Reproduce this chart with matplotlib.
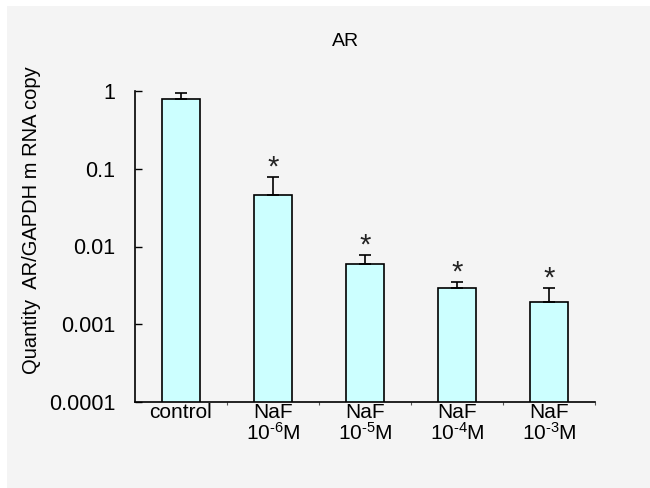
"""Recreate the AR mRNA bar chart (log scale)."""

import matplotlib
matplotlib.use("Agg")
import matplotlib.pyplot as plt
from matplotlib.patches import Rectangle

plt.rcParams["font.family"] = ["Liberation Sans", "DejaVu Sans"]
plt.rcParams["mathtext.fontset"] = "custom"
plt.rcParams["mathtext.rm"] = "Liberation Sans"
plt.rcParams["mathtext.default"] = "regular"

CATEGORIES = ["control", "NaF\n10$^{\u2010 6}$M", "NaF\n10$^{\u2010 5}$M",
              "NaF\n10$^{\u2010 4}$M", "NaF\n10$^{\u2010 3}$M"]
MEANS = [0.78, 0.046, 0.0060, 0.0029, 0.00195]
ERR_UP = [0.17, 0.033, 0.0017, 0.00055, 0.0010]
SIGNIF = [False, True, True, True, True]
YTICKS = [0.0001, 0.001, 0.01, 0.1, 1]
YTICK_LABELS = ["0.0001", "0.001", "0.01", "0.1", "1"]

BG = "#f4f4f4"
BAR = "#ccffff"

fig = plt.figure(figsize=(6.5, 4.88), dpi=100)
fig.patch.set_facecolor("white")
fig.patches.append(Rectangle((7 / 650, 0), 1, 1 - 6 / 488, transform=fig.transFigure,
                             facecolor=BG, edgecolor="none", zorder=-1))

ax = fig.add_axes([135 / 650, 1 - 402 / 488, 460 / 650, (402 - 91) / 488])
ax.set_facecolor("none")

x = list(range(len(CATEGORIES)))
ax.bar(x, MEANS, width=0.42, color=BAR, edgecolor="black", linewidth=1.2, zorder=2)
ax.errorbar(x, MEANS, yerr=[[0] * len(MEANS), ERR_UP], fmt="none", ecolor="black",
            elinewidth=1.2, capsize=4, capthick=1.2, zorder=3)

for xi, m, e, s in zip(x, MEANS, ERR_UP, SIGNIF):
    if s:
        ax.annotate("*", (xi, m + e), xytext=(0, 1), textcoords="offset points",
                    ha="center", va="baseline", fontsize=21, color="#222222")

ax.set_yscale("log")
ax.set_ylim(0.0001, 1)
ax.set_xlim(-0.5, len(CATEGORIES) - 0.5)
ax.set_yticks(YTICKS)
ax.set_yticklabels(YTICK_LABELS)
ax.yaxis.set_minor_locator(matplotlib.ticker.NullLocator())
ax.tick_params(axis="y", direction="in", length=5, width=1, labelsize=15.5, pad=14)

ax.set_xticks([i + 0.5 for i in x[:-1]] + [len(x) - 0.5], minor=True)
ax.set_xticks(x)
ax.set_xticklabels(CATEGORIES, linespacing=1.0)
ax.tick_params(axis="x", which="major", length=0, labelsize=15, pad=1)
ax.tick_params(axis="x", which="minor", direction="out", length=2, width=0.8, color="#555555")

for side in ("top", "right"):
    ax.spines[side].set_visible(False)
for side in ("left", "bottom"):
    ax.spines[side].set_linewidth(1.2)

ax.set_ylabel("Quantity  AR/GAPDH m RNA copy", fontsize=14.5)
ax.yaxis.set_label_coords(-94 / 460, 0.585)

fig.text(346 / 650, 1 - 41 / 488, "AR", ha="center", va="center", fontsize=14)

fig.savefig("out.png", dpi=100)
